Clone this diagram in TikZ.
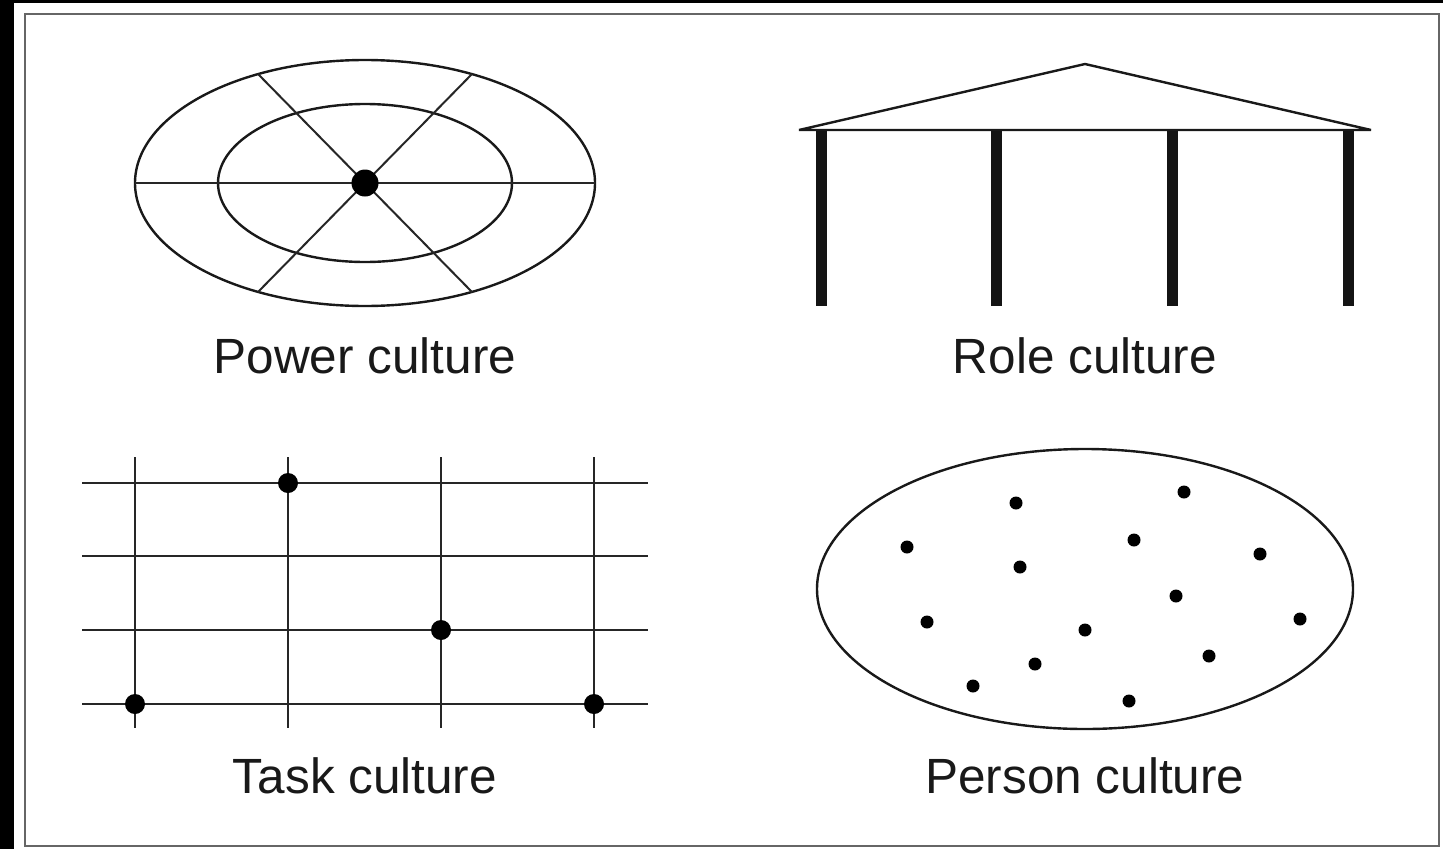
\documentclass[tikz,border=0pt]{standalone}
\usepackage{fontspec}
\setmainfont{Liberation Sans}
\begin{document}
\begin{tikzpicture}[x=1pt,y=-1pt,
  thinline/.style={draw=black!85, line width=2pt},
  outline/.style={draw=black!90, line width=2.4pt},
  pillar/.style={draw=black!92, line width=11pt},
  bigdot/.style={fill=black},
  label/.style={font=\fontsize{49.5}{59}\selectfont, anchor=base, inner sep=0pt, text=black!90}]
% background and frame
\fill[black] (0,0) rectangle (1443,849);
\fill[white] (14,3) rectangle (1443,849);
\useasboundingbox (0,0) rectangle (1443,849);
\draw[draw=black!60, line width=2.5pt] (25,14) rectangle (1439,846);

% ---------- Power culture ----------
\coordinate (pc) at (365,183);
\draw[outline] (pc) ellipse [x radius=230pt, y radius=123pt];
\draw[outline] (pc) ellipse [x radius=147pt, y radius=79pt];
\coordinate (pl) at (135,183);
\coordinate (pr) at (595,183);
\coordinate (ptl) at (258,74);
\coordinate (pbr) at (472,292);
\coordinate (ptr) at (472,74);
\coordinate (pbl) at (258,292);
\draw[thinline] (pl) -- (pr);
\draw[thinline] (ptl) -- (pbr);
\draw[thinline] (ptr) -- (pbl);
\fill[bigdot] (pc) circle[radius=13.5pt];
\node[label] (lpower) at (365,373) {Power culture};

% ---------- Role culture ----------
\coordinate (rl) at (799,130);
\coordinate (rt) at (1085,64);
\coordinate (rr) at (1371,130);
\draw[outline, line join=bevel] (rl) -- (rt) -- (rr) -- cycle;
\foreach \i/\x in {1/821,2/996,3/1172,4/1348}{
  \coordinate (pt\i) at (\x,131);
  \coordinate (pb\i) at (\x,306);
  \draw[pillar] (pt\i) -- (pb\i);
}
\node[label] (lrole) at (1085,373) {Role culture};

% ---------- Task culture ----------
\foreach \i/\y in {1/483,2/556,3/630,4/704}{
  \coordinate (hl\i) at (82,\y);
  \coordinate (hr\i) at (648,\y);
  \draw[thinline] (hl\i) -- (hr\i);
}
\foreach \i/\x in {1/135,2/288,3/441,4/594}{
  \coordinate (vt\i) at (\x,457);
  \coordinate (vb\i) at (\x,728);
  \draw[thinline] (vt\i) -- (vb\i);
}
\coordinate (td1) at (288,483);
\coordinate (td2) at (441,630);
\coordinate (td3) at (135,704);
\coordinate (td4) at (594,704);
\foreach \d in {td1,td2,td3,td4}{\fill[bigdot] (\d) circle[radius=10pt];}
\node[label] (ltask) at (365,793) {Task culture};

% ---------- Person culture ----------
\coordinate (psc) at (1085,589);
\draw[outline] (psc) ellipse [x radius=268pt, y radius=140pt];
\foreach \x/\y in {1016/503,1184/492,907/547,1134/540,1260/554,1020/567,1176/596,
                   927/622,1085/630,1300/619,1035/664,1209/656,973/686,1129/701}{
  \fill[bigdot] (\x,\y) circle[radius=6.5pt];
}
\node[label] (lperson) at (1085,793) {Person culture};
\end{tikzpicture}
\end{document}
